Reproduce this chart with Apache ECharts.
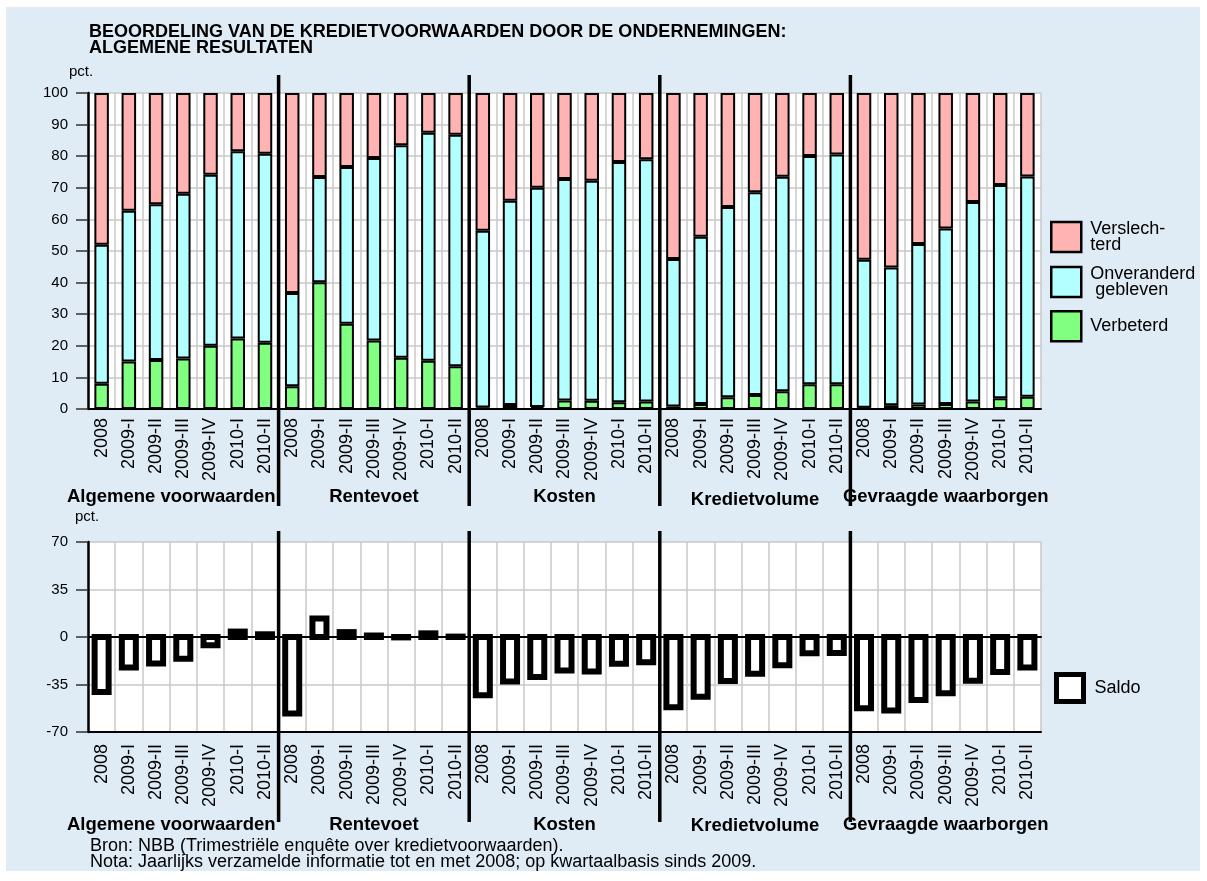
<!DOCTYPE html>
<html><head><meta charset="utf-8">
<script src="https://cdn.jsdelivr.net/npm/echarts@6/dist/echarts.min.js"></script>
<style>
html,body{margin:0;padding:0;background:#fff;}
#bg{position:absolute;left:6px;top:7px;width:1194px;height:864px;background:#dfebf5;}
#c{position:absolute;left:0;top:0;width:1207px;height:881px;}
</style></head><body>
<div id="bg"></div><div id="c"></div>
<script>
const groups = ['Algemene voorwaarden','Rentevoet','Kosten','Kredietvolume','Gevraagde waarborgen'];
const periods = ['2008','2009-I','2009-II','2009-III','2009-IV','2010-I','2010-II'];

const verbeterd = [
  8, 15, 15.5, 16, 20, 22.3, 21,
  7.2, 40.1, 27, 21.7, 16.2, 15.3, 13.5,
  0.5, 1.3, 0.6, 2.7, 2.6, 2.1, 2.4,
  0.8, 1.6, 3.7, 4.4, 5.6, 7.8, 7.8,
  0.4, 1.2, 1.4, 1.6, 2.4, 3.4, 3.9
];
const onveranderd = [
  44, 47.7, 49.3, 52.1, 54.1, 59.3, 59.8,
  29.5, 33.3, 49.6, 57.7, 67.3, 72.1, 73.3,
  55.9, 64.6, 69.4, 70.1, 69.6, 76.1, 76.6,
  46.7, 52.9, 60.2, 64.2, 67.9, 72.3, 72.7,
  46.8, 43.6, 50.8, 55.5, 63.1, 67.5, 69.7
];
const verslechterd = [
  48, 37.3, 35.2, 31.9, 25.9, 18.4, 19.2,
  63.3, 26.6, 23.4, 20.6, 16.5, 12.6, 13.2,
  43.6, 34.1, 30, 27.2, 27.8, 21.8, 21,
  52.5, 45.5, 36.1, 31.4, 26.5, 19.9, 19.5,
  52.8, 55.2, 47.8, 42.9, 34.5, 29.1, 26.4
];
const saldo = [
  -40.5, -22.5, -19.5, -16, -6, 4, 2,
  -56.3, 13.6, 3.6, 1.1, -0.3, 2.7, 0.3,
  -43, -32.8, -29.4, -24.6, -25.4, -19.8, -18.6,
  -51.8, -44, -32.4, -27.1, -20.8, -12, -11.8,
  -52.5, -54.1, -46.4, -41.4, -32.2, -25.8, -22.5
];
const legendLabels = {
  'Verslechterd': 'Verslech-\nterd',
  'Onveranderd gebleven': 'Onveranderd\n gebleven',
  'Verbeterd': 'Verbeterd',
  'Saldo': 'Saldo'
};
const titleText = 'BEOORDELING VAN DE KREDIETVOORWAARDEN DOOR DE ONDERNEMINGEN:\nALGEMENE RESULTATEN';
const footerText = 'Bron: NBB (Trimestriële enquête over kredietvoorwaarden).\nNota: Jaarlijks verzamelde informatie tot en met 2008; op kwartaalbasis sinds 2009.';

const categories = [];
groups.forEach(g => periods.forEach(p => categories.push(g + '|' + p)));

const FONT = '"Liberation Sans", Arial, sans-serif';
const GRID_LINE = {color:'#c8c8c8', width:1.5};
const catLabel = (margin) => ({interval:0, rotate:90, margin:margin, fontSize:18, color:'#000', fontFamily:FONT,
  formatter: v => v.split('|')[1]});

const chart = echarts.init(document.getElementById('c'));
const option = {
  animation:false,
  backgroundColor:'transparent',
  textStyle:{fontFamily:FONT, color:'#000'},
  grid:[
    {left:88, top:93, width:953, height:316, show:true, backgroundColor:'#fff', borderWidth:0},
    {left:88, top:542, width:953, height:190, show:true, backgroundColor:'#fff', borderWidth:0}
  ],
  xAxis:[
    {gridIndex:0, type:'category', data:categories,
     axisLine:{lineStyle:{color:'#000', width:2}},
     axisTick:{inside:true, length:5, lineStyle:{color:'#000'}},
     splitLine:{show:true, lineStyle:GRID_LINE},
     axisLabel:catLabel(9)},
    {gridIndex:1, type:'category', data:categories, position:'bottom',
     axisLine:{onZero:false, lineStyle:{color:'#000', width:2}},
     axisTick:{show:false},
     splitLine:{show:true, lineStyle:GRID_LINE},
     axisLabel:catLabel(12)},
    {gridIndex:1, type:'category', data:categories,
     axisLine:{onZero:true, lineStyle:{color:'#000', width:2}},
     axisTick:{inside:true, length:4, lineStyle:{color:'#000'}},
     splitLine:{show:false},
     axisLabel:{show:false}}
  ],
  yAxis:[
    {gridIndex:0, type:'value', min:0, max:100, interval:10,
     axisLine:{show:true, lineStyle:{color:'#000', width:2.5}},
     axisTick:{show:true, length:12, lineStyle:{color:'#333', width:1.5}},
     axisLabel:{margin:20, fontSize:15, color:'#000'},
     splitLine:{show:true, lineStyle:GRID_LINE}},
    {gridIndex:1, type:'value', min:-70, max:70, interval:35,
     axisLine:{show:true, lineStyle:{color:'#000', width:2.5}},
     axisTick:{show:true, length:12, lineStyle:{color:'#333', width:1.5}},
     axisLabel:{margin:20, fontSize:15, color:'#000'},
     splitLine:{show:true, lineStyle:GRID_LINE}}
  ],
  legend:[
    {orient:'vertical', left:1045, top:215, itemWidth:30, itemHeight:30, itemGap:11, icon:'rect',
     selectedMode:false,
     data:['Verslechterd','Onveranderd gebleven','Verbeterd'],
     formatter: n => legendLabels[n],
     textStyle:{fontSize:18, lineHeight:16, color:'#000', padding:[0,0,0,4]},
     itemStyle:{borderColor:'#000', borderWidth:2.5}},
    {orient:'vertical', left:1049, top:667, itemWidth:27, itemHeight:27, icon:'rect',
     selectedMode:false,
     data:['Saldo'],
     formatter: n => legendLabels[n],
     textStyle:{fontSize:18, color:'#000', padding:[0,0,0,6]},
     itemStyle:{color:'#fff', borderColor:'#000', borderWidth:5}}
  ],
  series:[
    {name:'Verbeterd', type:'bar', xAxisIndex:0, yAxisIndex:0, stack:'s', data:verbeterd, barWidth:14.5,
     itemStyle:{color:'#80ff80', borderColor:'#000', borderWidth:2}},
    {name:'Onveranderd gebleven', type:'bar', xAxisIndex:0, yAxisIndex:0, stack:'s', data:onveranderd, barWidth:14.5,
     itemStyle:{color:'#b3ffff', borderColor:'#000', borderWidth:2}},
    {name:'Verslechterd', type:'bar', xAxisIndex:0, yAxisIndex:0, stack:'s', data:verslechterd, barWidth:14.5,
     itemStyle:{color:'#ffb3b3', borderColor:'#000', borderWidth:2}},
    {name:'Saldo', type:'custom', xAxisIndex:1, yAxisIndex:1,
     data: saldo.map((v, i) => [i, v]),
     encode:{x:0, y:1},
     itemStyle:{color:'#fff', borderColor:'#000', borderWidth:6},
     renderItem: (params, api) => {
       const idx = api.value(0), val = api.value(1);
       const p0 = api.coord([idx, 0]);
       const p1 = api.coord([idx, val]);
       const w = api.size([1, 0])[0] * 0.515;
       return {type:'rect',
         shape:{x:p0[0]-w/2, y:Math.min(p0[1], p1[1]), width:w, height:Math.abs(p1[1]-p0[1])},
         style:{fill:'#fff', stroke:'#000', lineWidth:6}};
     }}
  ]
};
chart.setOption(option);

// layout helpers computed from the axes
function boundaryX(i){
  const a = chart.convertToPixel({xAxisIndex:0}, i-1);
  const b = chart.convertToPixel({xAxisIndex:0}, i);
  return (a+b)/2;
}
const gridLeft = 88, gridRight = 88+953;
const per = periods.length;
const seps = [];
for (let g=1; g<groups.length; g++) seps.push(boundaryX(g*per));

const graphics = [];
graphics.push({type:'text', x:89, y:24, z:100, style:{text:titleText, fontSize:18, fontWeight:'bold', lineHeight:16, fill:'#000', fontFamily:FONT, verticalAlign:'top'}});
graphics.push({type:'text', x:69, y:72, z:100, style:{text:'pct.', fontSize:15, fill:'#000', fontFamily:FONT, verticalAlign:'middle'}});
graphics.push({type:'text', x:75, y:517, z:100, style:{text:'pct.', fontSize:15, fill:'#000', fontFamily:FONT, verticalAlign:'middle'}});
seps.forEach(x => {
  graphics.push({type:'line', z:100, shape:{x1:x, y1:75, x2:x, y2:506}, style:{stroke:'#000', lineWidth:3.5}});
  graphics.push({type:'line', z:100, shape:{x1:x, y1:531, x2:x, y2:822}, style:{stroke:'#000', lineWidth:3.5}});
});
const bounds = [gridLeft].concat(seps).concat([gridRight]);
groups.forEach((g, i) => {
  const left = bounds[i], right = bounds[i+1];
  const isFirst = i === 0;
  [[497, 500], [825, 826]].forEach(ys => {
    const y = g === 'Kredietvolume' ? ys[1] : ys[0];
    graphics.push({type:'text', z:100, x: isFirst ? right - 3 : (left+right)/2, y:y,
      style:{text:g, fontSize:18.5, fontWeight:'bold', fill:'#000', fontFamily:FONT,
             align: isFirst ? 'right' : 'center', verticalAlign:'middle'}});
  });
});
graphics.push({type:'text', x:90, y:838, z:100, style:{text:footerText, fontSize:18, lineHeight:16, fill:'#000', fontFamily:FONT, verticalAlign:'top'}});
chart.setOption({graphic:graphics});
</script>
</body></html>
